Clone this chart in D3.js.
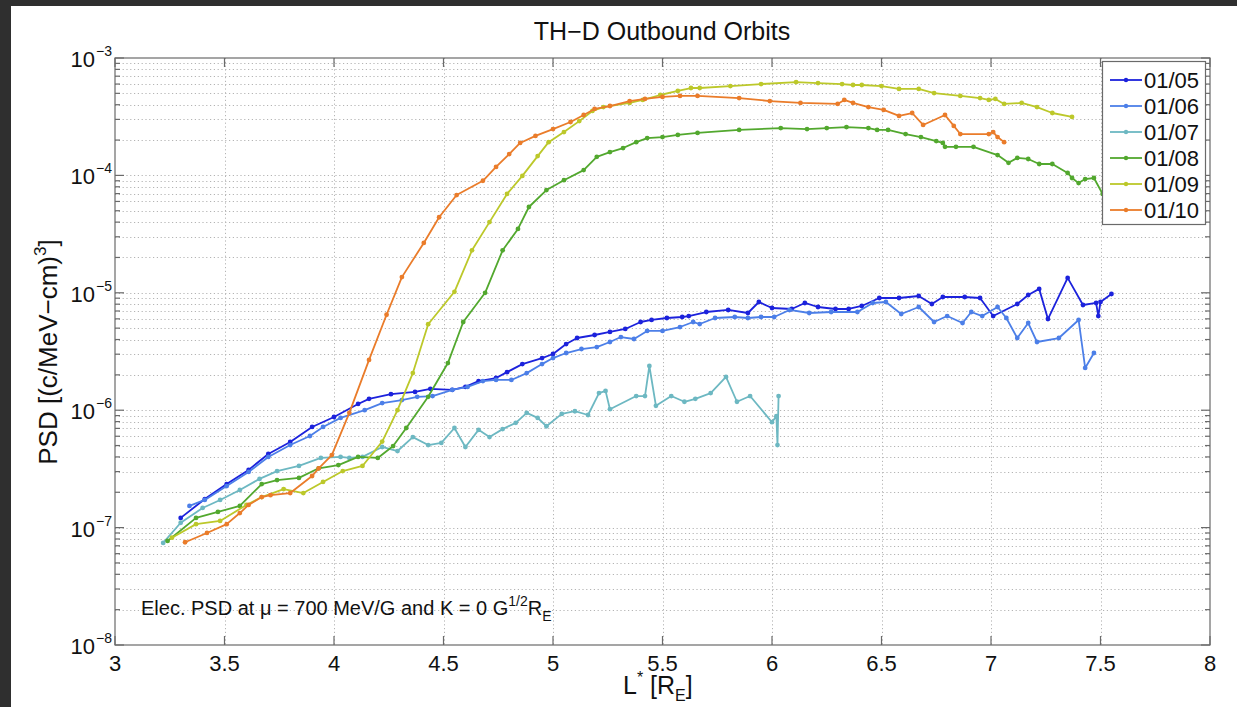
<!DOCTYPE html>
<html><head><meta charset="utf-8">
<script src="https://cdn.jsdelivr.net/npm/d3@7"></script>
<style>
html,body{margin:0;padding:0;background:#fff;}
svg{display:block;font-family:"Liberation Sans",Arial,Helvetica,sans-serif;}
</style></head><body>
<svg id="chart" width="1237" height="707"></svg>
<script>
// ---------------- data ----------------
const seriesNames = ["01/05","01/06","01/07","01/08","01/09","01/10"];
const seriesColors = ["#1c22dc","#4c7fe8","#6db8c2","#52a82e","#bcc82a","#ea7c2a"];

const psd0105 = [[3.30,1.21e-7],[3.41,1.75e-7],[3.51,2.35e-7],[3.61,3.1e-7],[3.70,4.24e-7],[3.80,5.36e-7],[3.90,7.2e-7],[4.00,8.75e-7],[4.11,1.13e-6],[4.16,1.25e-6],[4.26,1.37e-6],[4.37,1.43e-6],[4.44,1.52e-6],[4.54,1.49e-6],[4.60,1.58e-6],[4.66,1.77e-6],[4.74,1.88e-6],[4.79,2.11e-6],[4.86,2.47e-6],[4.95,2.78e-6],[5.00,3.01e-6],[5.06,3.66e-6],[5.11,4.12e-6],[5.19,4.37e-6],[5.26,4.64e-6],[5.33,4.92e-6],[5.40,5.64e-6],[5.45,5.87e-6],[5.52,6.1e-6],[5.59,6.22e-6],[5.62,6.34e-6],[5.70,6.86e-6],[5.80,7.14e-6],[5.89,6.73e-6],[5.94,8.35e-6],[6.00,7.42e-6],[6.09,7.28e-6],[6.15,8.19e-6],[6.21,7.57e-6],[6.29,7.28e-6],[6.35,7.28e-6],[6.41,7.72e-6],[6.49,9.03e-6],[6.58,9.03e-6],[6.67,9.39e-6],[6.73,8.03e-6],[6.78,9.21e-6],[6.88,9.21e-6],[6.95,9.03e-6],[7.01,6.34e-6],[7.12,8.03e-6],[7.17,9.58e-6],[7.22,1.08e-5],[7.26,5.98e-6],[7.35,1.34e-5],[7.42,7.87e-6],[7.48,8.19e-6],[7.49,6.34e-6],[7.50,8.35e-6],[7.55,9.77e-6]];

const psd0106 = [[3.34,1.53e-7],[3.41,1.72e-7],[3.51,2.26e-7],[3.61,2.98e-7],[3.70,4.0e-7],[3.80,5.05e-7],[3.89,6.03e-7],[3.95,7.2e-7],[4.03,8.6e-7],[4.14,1.0e-6],[4.22,1.15e-6],[4.31,1.22e-6],[4.38,1.3e-6],[4.45,1.32e-6],[4.54,1.49e-6],[4.61,1.58e-6],[4.68,1.77e-6],[4.74,1.81e-6],[4.81,1.81e-6],[4.88,2.07e-6],[4.95,2.47e-6],[5.00,2.78e-6],[5.06,3.07e-6],[5.13,3.32e-6],[5.20,3.45e-6],[5.26,3.81e-6],[5.31,4.2e-6],[5.37,4.04e-6],[5.43,4.73e-6],[5.50,4.73e-6],[5.58,5.11e-6],[5.64,5.64e-6],[5.67,5.42e-6],[5.74,6.1e-6],[5.83,6.22e-6],[5.89,6.1e-6],[5.95,6.22e-6],[6.01,6.22e-6],[6.08,7.14e-6],[6.17,6.73e-6],[6.27,6.86e-6],[6.39,6.86e-6],[6.46,8.19e-6],[6.52,8.35e-6],[6.59,6.6e-6],[6.67,7.57e-6],[6.74,5.64e-6],[6.80,6.34e-6],[6.87,5.53e-6],[6.91,6.86e-6],[6.96,6.34e-6],[7.03,7.57e-6],[7.07,6.1e-6],[7.12,4.12e-6],[7.17,5.53e-6],[7.21,3.81e-6],[7.31,4.12e-6],[7.40,5.87e-6],[7.43,2.29e-6],[7.47,3.07e-6]];

const psd0107 = [[3.22,7.4e-8],[3.30,1.1e-7],[3.40,1.47e-7],[3.48,1.72e-7],[3.57,2.09e-7],[3.66,2.6e-7],[3.74,3.03e-7],[3.84,3.35e-7],[3.94,3.92e-7],[4.03,4.0e-7],[4.07,3.92e-7],[4.13,4.0e-7],[4.22,4.86e-7],[4.29,4.49e-7],[4.36,5.9e-7],[4.43,5.05e-7],[4.49,5.26e-7],[4.55,7.05e-7],[4.60,4.86e-7],[4.66,6.8e-7],[4.71,5.9e-7],[4.77,6.9e-7],[4.83,7.8e-7],[4.88,9.5e-7],[4.93,8.6e-7],[4.97,7.3e-7],[5.04,9.3e-7],[5.10,9.8e-7],[5.16,9.1e-7],[5.21,1.4e-6],[5.24,1.46e-6],[5.26,1.02e-6],[5.38,1.32e-6],[5.42,1.32e-6],[5.44,2.38e-6],[5.47,1.09e-6],[5.54,1.32e-6],[5.60,1.18e-6],[5.65,1.25e-6],[5.72,1.4e-6],[5.79,1.92e-6],[5.84,1.18e-6],[5.90,1.32e-6],[6.00,7.9e-7],[6.02,8.9e-7],[6.025,5.05e-7],[6.03,1.32e-6]];

const psd0108 = [[3.24,7.7e-8],[3.37,1.21e-7],[3.47,1.36e-7],[3.57,1.53e-7],[3.67,2.35e-7],[3.74,2.54e-7],[3.84,2.65e-7],[3.93,3.2e-7],[4.02,3.41e-7],[4.11,4.0e-7],[4.20,3.92e-7],[4.27,4.95e-7],[4.33,7.05e-7],[4.43,1.3e-6],[4.52,2.52e-6],[4.59,5.64e-6],[4.69,1.0e-5],[4.77,2.3e-5],[4.84,3.5e-5],[4.89,5.38e-5],[4.97,7.5e-5],[5.05,9.1e-5],[5.14,1.11e-4],[5.20,1.44e-4],[5.26,1.58e-4],[5.32,1.71e-4],[5.38,1.92e-4],[5.43,2.08e-4],[5.50,2.12e-4],[5.57,2.21e-4],[5.66,2.3e-4],[5.85,2.44e-4],[6.04,2.53e-4],[6.16,2.48e-4],[6.25,2.53e-4],[6.34,2.58e-4],[6.44,2.53e-4],[6.48,2.44e-4],[6.53,2.44e-4],[6.61,2.25e-4],[6.68,2.12e-4],[6.75,1.96e-4],[6.78,1.89e-4],[6.79,1.75e-4],[6.84,1.75e-4],[6.92,1.75e-4],[7.03,1.49e-4],[7.08,1.28e-4],[7.12,1.41e-4],[7.17,1.38e-4],[7.22,1.25e-4],[7.28,1.25e-4],[7.35,1.05e-4],[7.37,9.5e-5],[7.40,8.6e-5],[7.43,9.3e-5],[7.47,9.5e-5],[7.51,6.95e-5]];

const psd0109 = [[3.26,8.2e-8],[3.37,1.07e-7],[3.48,1.14e-7],[3.60,1.56e-7],[3.67,1.82e-7],[3.77,2.13e-7],[3.86,1.97e-7],[3.95,2.45e-7],[4.04,3.03e-7],[4.13,3.35e-7],[4.22,5.4e-7],[4.29,1.0e-6],[4.36,2.07e-6],[4.43,5.4e-6],[4.55,1.02e-5],[4.63,2.3e-5],[4.71,4.0e-5],[4.79,6.95e-5],[4.86,9.9e-5],[4.93,1.46e-4],[4.98,1.92e-4],[5.05,2.34e-4],[5.12,2.9e-4],[5.18,3.54e-4],[5.23,3.82e-4],[5.35,4.14e-4],[5.41,4.39e-4],[5.49,4.84e-4],[5.57,5.24e-4],[5.63,5.55e-4],[5.67,5.55e-4],[5.81,5.77e-4],[5.95,6.0e-4],[6.11,6.24e-4],[6.21,6.12e-4],[6.32,6.0e-4],[6.37,5.89e-4],[6.41,5.89e-4],[6.50,5.77e-4],[6.58,5.45e-4],[6.67,5.45e-4],[6.74,5.03e-4],[6.86,4.75e-4],[6.95,4.56e-4],[6.99,4.39e-4],[7.02,4.48e-4],[7.06,4.06e-4],[7.14,4.14e-4],[7.21,3.82e-4],[7.28,3.4e-4],[7.37,3.15e-4]];

const psd0110 = [[3.32,7.5e-8],[3.42,9.0e-8],[3.51,1.07e-7],[3.57,1.33e-7],[3.61,1.56e-7],[3.67,1.82e-7],[3.71,1.89e-7],[3.80,1.97e-7],[3.90,2.75e-7],[3.93,3.2e-7],[3.99,4.15e-7],[4.07,9.5e-7],[4.16,2.68e-6],[4.24,6.5e-6],[4.31,1.36e-5],[4.41,2.66e-5],[4.48,4.4e-5],[4.56,6.8e-5],[4.68,9.0e-5],[4.74,1.18e-4],[4.80,1.52e-4],[4.85,1.89e-4],[4.92,2.17e-4],[5.00,2.48e-4],[5.08,2.85e-4],[5.14,3.27e-4],[5.19,3.68e-4],[5.26,3.9e-4],[5.35,4.3e-4],[5.42,4.48e-4],[5.50,4.66e-4],[5.58,4.75e-4],[5.66,4.75e-4],[5.85,4.56e-4],[5.99,4.3e-4],[6.13,4.14e-4],[6.30,4.06e-4],[6.33,4.39e-4],[6.37,4.14e-4],[6.44,3.82e-4],[6.51,3.61e-4],[6.58,3.21e-4],[6.64,3.4e-4],[6.69,2.69e-4],[6.79,3.27e-4],[6.83,2.64e-4],[6.86,2.25e-4],[6.99,2.25e-4],[7.01,2.34e-4],[7.03,2.12e-4],[7.06,1.92e-4]];

const seriesData = [psd0105, psd0106, psd0107, psd0108, psd0109, psd0110];

const xTickValues = [3, 3.5, 4, 4.5, 5, 5.5, 6, 6.5, 7, 7.5, 8];
const xTickLabels = ["3","3.5","4","4.5","5","5.5","6","6.5","7","7.5","8"];
const yTickExponents = [-3, -4, -5, -6, -7, -8];
const titleText = "TH\u2212D Outbound Orbits";

// ---------------- layout ----------------
const W = 1237, H = 707;
const L = 115, R = 1210, T = 58, B = 645;
const svg = d3.select("#chart");

const x = d3.scaleLinear().domain([3, 8]).range([L, R]);
const y = d3.scaleLog().domain([1e-8, 1e-3]).range([B, T]);

// screenshot frame
svg.append("rect").attr("x",0).attr("y",0).attr("width",W).attr("height",H).attr("fill","#fff");
svg.append("rect").attr("x",0).attr("y",0).attr("width",W).attr("height",6).attr("fill","#2f2f2f");
svg.append("rect").attr("x",0).attr("y",0).attr("width",11).attr("height",H).attr("fill","#2f2f2f");

// grid
const minorVals = [];
for (let e = -8; e < -3; e++) for (let k = 1; k <= 9; k++) minorVals.push(k * Math.pow(10, e));
const grid = svg.append("g").attr("stroke","#b4b4b4").attr("stroke-width",1).attr("stroke-dasharray","1.2,2.6");
grid.selectAll("line.h").data(minorVals.filter(v => v > 1.01e-8)).enter().append("line")
  .attr("x1",L).attr("x2",R).attr("y1",d=>Math.round(y(d))+0.5).attr("y2",d=>Math.round(y(d))+0.5);
grid.selectAll("line.v").data(xTickValues.filter(v => v > 3 && v < 8)).enter().append("line")
  .attr("y1",T).attr("y2",B).attr("x1",d=>Math.round(x(d))+0.5).attr("x2",d=>Math.round(x(d))+0.5);

// series
const line = d3.line().x(d => x(d[0])).y(d => y(d[1]));
seriesData.forEach((data, i) => {
  const g = svg.append("g");
  g.append("path").datum(data).attr("d", line).attr("fill","none")
    .attr("stroke", seriesColors[i]).attr("stroke-width",1.8).attr("stroke-linejoin","round");
  g.selectAll("circle").data(data).enter().append("circle")
    .attr("cx", d => x(d[0])).attr("cy", d => y(d[1])).attr("r", 2.4).attr("fill", seriesColors[i]);
});

// axes box + ticks
const axisColor = "#6a6a6a";
const ax = svg.append("g").attr("stroke", axisColor).attr("stroke-width",1.2);
ax.append("rect").attr("x",L).attr("y",T).attr("width",R-L).attr("height",B-T).attr("fill","none");
xTickValues.forEach(v => {
  const px = x(v);
  ax.append("line").attr("x1",px).attr("x2",px).attr("y1",B).attr("y2",B-9);
  ax.append("line").attr("x1",px).attr("x2",px).attr("y1",T).attr("y2",T+9);
});
minorVals.concat([1e-3]).forEach(v => {
  const py = y(v);
  const major = Math.abs(Math.log10(v) - Math.round(Math.log10(v))) < 1e-9;
  const len = major ? 9 : 5;
  ax.append("line").attr("x1",L).attr("x2",L+len).attr("y1",py).attr("y2",py);
  ax.append("line").attr("x1",R).attr("x2",R-len).attr("y1",py).attr("y2",py);
});

// tick labels
svg.selectAll("text.xt").data(xTickValues).enter().append("text")
  .attr("x", d => x(d)).attr("y", 671).attr("text-anchor","middle")
  .attr("font-size",22).attr("fill","#111").text((d,i) => xTickLabels[i]);
yTickExponents.forEach(e => {
  const py = y(Math.pow(10, e));
  svg.append("text").attr("x",95).attr("y",py+9).attr("text-anchor","end")
    .attr("font-size",22).attr("fill","#111").text("10");
  svg.append("text").attr("x",96).attr("y",py-2).attr("text-anchor","start")
    .attr("font-size",14).attr("fill","#111").text("\u2212" + Math.abs(e));
});

// title
svg.append("text").attr("x",662).attr("y",40).attr("text-anchor","middle")
  .attr("font-size",25).attr("fill","#111").text(titleText);

// y label
const yl = svg.append("text").attr("transform","translate(57,352) rotate(-90)")
  .attr("text-anchor","middle").attr("font-size",26).attr("fill","#111");
yl.append("tspan").text("PSD [(c/MeV\u2212cm)");
yl.append("tspan").attr("font-size",17).attr("dy",-11).text("3");
yl.append("tspan").attr("dy",11).text("]");

// x label with white background (hides lower part of the 5.5 tick label, as in the original)
svg.append("rect").attr("x",612).attr("y",672).attr("width",100).attr("height",35).attr("fill","#fff");
const xl = svg.append("text").attr("x",623).attr("y",694).attr("font-size",25).attr("fill","#111");
xl.append("tspan").text("L");
xl.append("tspan").attr("font-size",16).attr("dy",-11).text("*");
xl.append("tspan").attr("dy",11).text(" [R");
xl.append("tspan").attr("font-size",16).attr("dy",7).text("E");
xl.append("tspan").attr("dy",-7).text("]");

// annotation
const an = svg.append("text").attr("x",141).attr("y",615).attr("font-size",20).attr("fill","#111");
an.append("tspan").text("Elec. PSD at \u03bc = 700 MeV/G and K = 0 G");
an.append("tspan").attr("font-size",14).attr("dy",-9).text("1/2");
an.append("tspan").attr("dy",9).text("R");
an.append("tspan").attr("font-size",14).attr("dy",6).text("E");

// legend
const lg = svg.append("g");
lg.append("rect").attr("x",1102.5).attr("y",61.5).attr("width",103).attr("height",163)
  .attr("fill","#fff").attr("stroke",axisColor).attr("stroke-width",1.2);
seriesNames.forEach((name, i) => {
  const cy = 80 + i * 26;
  lg.append("line").attr("x1",1110).attr("x2",1142).attr("y1",cy).attr("y2",cy)
    .attr("stroke",seriesColors[i]).attr("stroke-width",1.8);
  lg.append("circle").attr("cx",1126).attr("cy",cy).attr("r",2.2).attr("fill",seriesColors[i]);
  lg.append("text").attr("x",1144).attr("y",cy+8).attr("font-size",22).attr("fill","#111").text(name);
});
</script>
</body></html>
